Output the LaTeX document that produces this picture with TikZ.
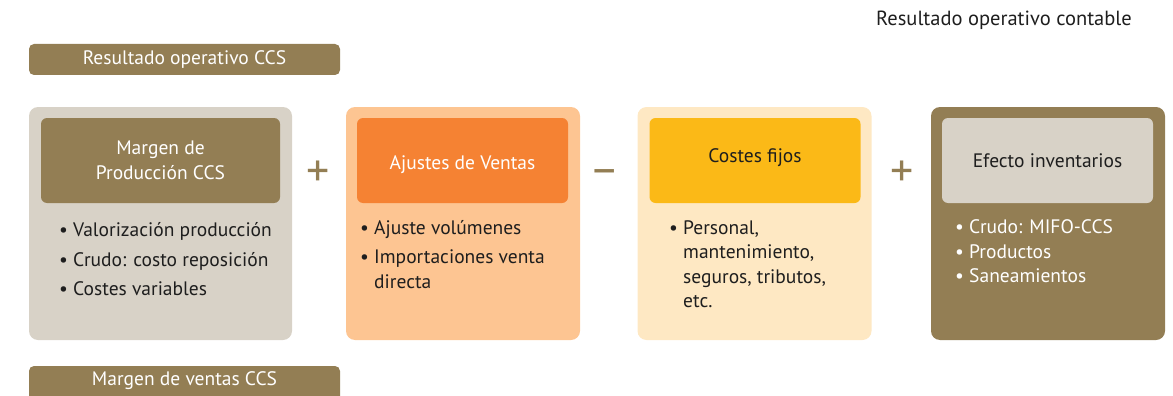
\documentclass[tikz,border=0pt]{standalone}
\usepackage{fontspec}
\setmainfont{PT Sans}
\usetikzlibrary{positioning}

\definecolor{oliva}{HTML}{937E54}
\definecolor{gris}{HTML}{D8D2C7}
\definecolor{naranja}{HTML}{F58233}
\definecolor{naranjaclaro}{HTML}{FDC592}
\definecolor{amarillo}{HTML}{FBB917}
\definecolor{amarilloclaro}{HTML}{FEE8C3}
\definecolor{texto}{HTML}{1E1E1E}

\newcommand{\sangria}{\phantom{\textbullet\ }}
\newcommand{\arranque}{\rule{0pt}{15pt}}

\begin{document}
\begin{tikzpicture}[x=1pt, y=-1pt,
    font=\fontsize{19.5}{24.5}\selectfont, text=texto,
    barra/.style={fill=oliva, rounded corners=5pt, minimum width=311pt,
        minimum height=31pt, inner sep=0pt, text=white},
    caja/.style={rounded corners=9pt, minimum width=234pt,
        minimum height=233pt, inner sep=0pt},
    cabecera/.style={rounded corners=6pt, minimum width=211pt,
        minimum height=85pt, inner sep=0pt, align=center},
    lista/.style={anchor=north west, align=left, inner sep=0pt},
    signo/.style={text=oliva, inner sep=0pt, font=\fontsize{46}{46}\selectfont}]
    \useasboundingbox (0,0) rectangle (1173,396);

    % Titulos
    \node[barra] (rccs) at (184.5,59.5) {Resultado operativo CCS};
    \node[barra, minimum height=38pt] (mventas) at (184.5,385) {};
    \node[text=white, inner sep=0pt] (mventastxt) at (184.5,381) {Margen de ventas CCS};
    \node[inner sep=0pt, font=\fontsize{20.5}{24}\selectfont] (rcontable)
        at (1004,20) {Resultado operativo contable};

    % Cajas
    \node[caja, fill=gris, minimum width=263pt] (produccion) at (160.5,223.5) {};
    \node[caja, fill=naranjaclaro] (ventas) at (463,223.5) {};
    \node[caja, fill=amarilloclaro] (fijos) at (754.5,223.5) {};
    \node[caja, fill=oliva] (inventarios) at (1048,223.5) {};

    % Cabeceras
    \node[cabecera, fill=oliva, text=white, minimum width=239pt] (hproduccion)
        at (160.5,160.5) {Margen de\\Producción CCS};
    \node[cabecera, fill=naranja, text=white] (hventas)
        at (462.5,160.5) {\raisebox{-4pt}[\height][\depth]{Ajustes de Ventas}};
    \node[cabecera, fill=amarillo] (hfijos)
        at (755,160.5) {\raisebox{3pt}[\height][\depth]{Costes fijos}};
    \node[cabecera, fill=gris] (hinventarios)
        at (1047.5,160.5) {Efecto inventarios};

    % Listas
    \node[lista] (lproduccion) at (59,221.5) {\arranque\textbullet\ Valorización producción\\[5pt]
        \textbullet\ Crudo: costo reposición\\[5pt]
        \textbullet\ Costes variables};
    \node[lista] (lventas) at (360,219) {\arranque\textbullet\ Ajuste volúmenes\\[5pt]
        \textbullet\ Importaciones venta\\
        \sangria directa};
    \node[lista] (lfijos) at (669,219) {\arranque\textbullet\ Personal,\\
        \sangria mantenimiento,\\
        \sangria seguros, tributos,\\
        \sangria etc.};
    \node[lista, text=white] (linventarios) at (955,218.5) {\arranque\textbullet\ Crudo: MIFO-CCS\\
        \textbullet\ Productos\\
        \textbullet\ Saneamientos};

    % Signos
    \foreach \n/\x/\y/\s in {mas1/318/174/+, menos/605/177/\textendash, mas2/902/174/+}
        \node[signo] (\n) at (\x,\y) {\s};
\end{tikzpicture}
\end{document}
